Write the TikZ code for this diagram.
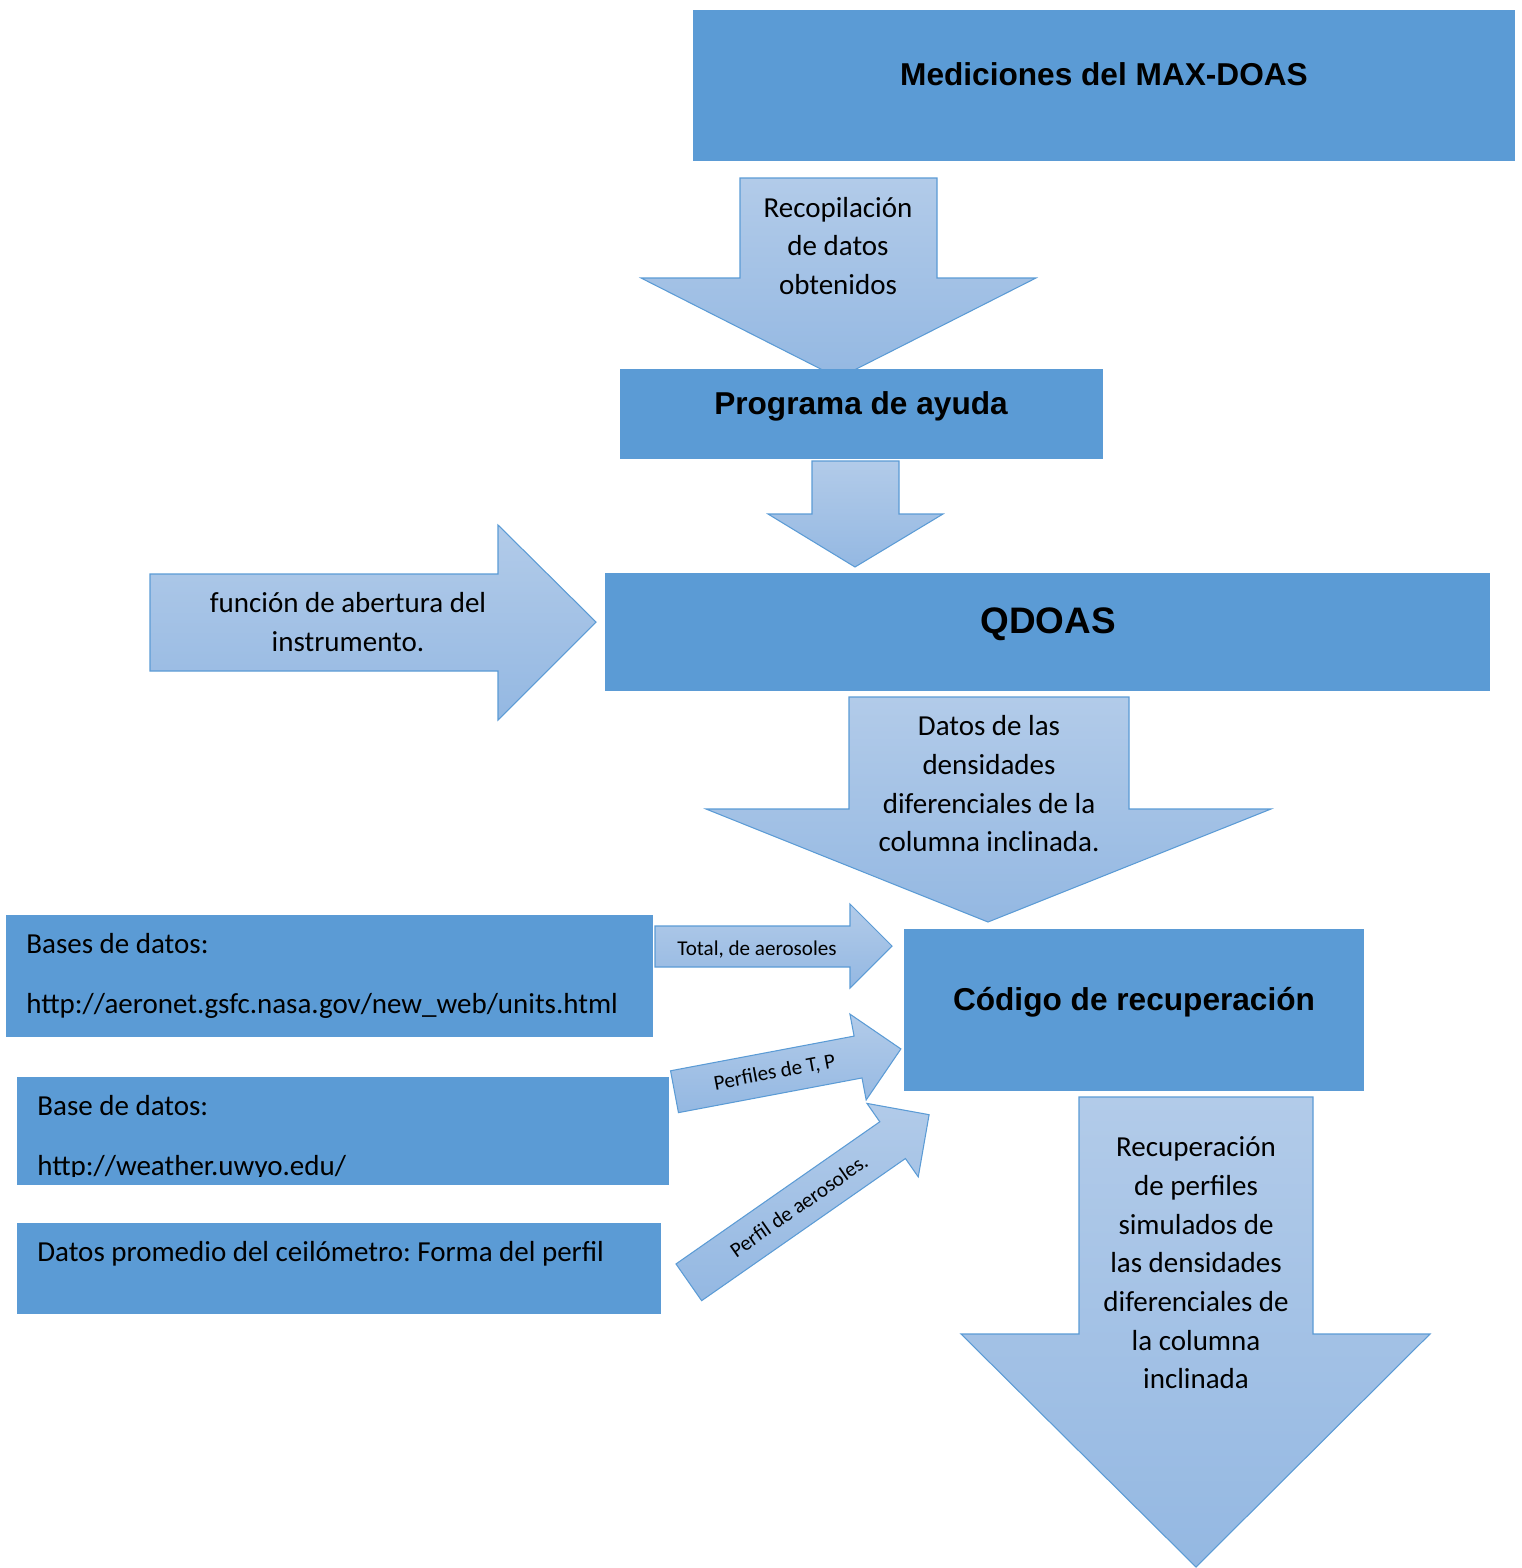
\documentclass[tikz,border=0pt]{standalone}
\usepackage{fontspec}
\setmainfont{Carlito}
\newfontfamily\arialfont{Liberation Sans}
\usetikzlibrary{positioning}
\definecolor{boxblue}{RGB}{91,155,213}
\definecolor{arrowtop}{RGB}{178,203,233}
\definecolor{arrowbot}{RGB}{148,184,226}
\frenchspacing

\begin{document}
\begin{tikzpicture}[x=0.02cm, y=-0.02cm,
BoxStyle/.style={fill=boxblue, draw=boxblue, anchor=north west,
                inner sep=0pt, outer sep=0pt},
ArrowStyle/.style={top color=arrowtop, bottom color=arrowbot,
                draw=boxblue, line width=0.6pt},
TitleStyle/.style={font=\arialfont\bfseries\fontsize{18}{22}\selectfont},
ArrowText/.style={align=center, font=\fontsize{16.5}{22}\selectfont},
LinkText/.style={anchor=base west, inner sep=0pt,
                font=\fontsize{16.5}{22}\selectfont},
SmallText/.style={font=\fontsize{12}{14}\selectfont},]
\useasboundingbox (0,0) rectangle (1521,1568);

\path[ArrowStyle] (740,178) -- (937,178) -- (937,278) -- (1036,278)
  -- (838.5,378) -- (641,278) -- (740,278) -- cycle;
\path[ArrowStyle] (812,461) -- (899,461) -- (899,514) -- (943,514)
  -- (855,567) -- (768,514) -- (812,514) -- cycle;
\path[ArrowStyle] (150,574) -- (498,574) -- (498,525) -- (596,622)
  -- (498,720) -- (498,671) -- (150,671) -- cycle;
\path[ArrowStyle] (849,697) -- (1129,697) -- (1129,809) -- (1271,809)
  -- (988,922) -- (706,809) -- (849,809) -- cycle;
\path[ArrowStyle] (1079,1097) -- (1313,1097) -- (1313,1334) -- (1430,1334)
  -- (1196,1567) -- (961,1334) -- (1079,1334) -- cycle;
\path[ArrowStyle] (655,926) -- (850,926) -- (850,904) -- (892,946)
  -- (850,988) -- (850,967) -- (655,967) -- cycle;
\begin{scope}[shift={(674.5,1091.7)}, rotate=10.7]
\path[ArrowStyle] (0,-21.3) -- (186.8,-21.3) -- (186.8,-43.7) -- (230.4,0)
  -- (186.8,43.7) -- (186.8,21.3) -- (0,21.3) -- cycle;
\node[SmallText, rotate=10.7] (perfT) at (102,0) {Perfiles de T, P};
\end{scope}
\begin{scope}[shift={(688.8,1282.3)}, rotate=34.9]
\path[ArrowStyle] (0,-22.4) -- (248.5,-22.4) -- (248.5,-44.8) -- (293,0)
  -- (248.5,44.8) -- (248.5,22.4) -- (0,22.4) -- cycle;
\node[SmallText, rotate=34.9] (aeroT) at (134,0) {Perfil de aerosoles.};
\end{scope}

\node[BoxStyle, minimum width=16.42cm, minimum height=3.00cm] (med) at (693,10) {};
\node[BoxStyle, minimum width=9.64cm, minimum height=1.78cm] (prog) at (620,369) {};
\node[BoxStyle, minimum width=17.70cm, minimum height=2.34cm] (qdoas) at (605,573) {};
\node[BoxStyle, minimum width=9.18cm, minimum height=3.22cm] (cod) at (904,929) {};
\node[BoxStyle, minimum width=12.92cm, minimum height=2.42cm] (aeronet) at (6,915) {};
\node[BoxStyle, minimum width=13.02cm, minimum height=2.14cm] (weather) at (17,1077) {};
\node[BoxStyle, minimum width=12.86cm, minimum height=1.80cm] (ceilo) at (17,1223) {};

\node[TitleStyle] (medT) at (1104,74) {Mediciones del MAX-DOAS};
\node[TitleStyle] (progT) at (861,406) {Programa de ayuda};
\node[TitleStyle, font=\arialfont\bfseries\fontsize{21}{25}\selectfont] (qdoasT) at (1048,624) {QDOAS};
\node[TitleStyle] (codT) at (1134,1002) {Código de recuperación};

\node[ArrowText] (recopT) at (838,246) {Recopilación\\de datos\\obtenidos};
\node[ArrowText] (funcT) at (348,622) {función de abertura del\\instrumento.};
\node[ArrowText] (datosT) at (989,784) {Datos de las\\densidades\\diferenciales de la\\columna inclinada.};
\node[ArrowText] (recupT) at (1196,1263) {Recuperación\\de perfiles\\simulados de\\las densidades\\diferenciales de\\la columna\\inclinada};
\node[SmallText] (totalT) at (757,950) {Total, de aerosoles};

\node[LinkText] (aeroA) at (26,953) {Bases de datos:};
\node[LinkText] (aeroB) at (26,1013) {http://aeronet.gsfc.nasa.gov/new\_web/units.html};
\node[LinkText] (weatherA) at (37,1115) {Base de datos:};
\begin{scope}
\clip (17,1077) rectangle (668,1176);
\node[LinkText] (weatherB) at (37,1175) {http://weather.uwyo.edu/};
\end{scope}
\node[LinkText] (ceiloT) at (37,1261) {Datos promedio del ceilómetro: Forma del perfil};
\end{tikzpicture}
\end{document}
